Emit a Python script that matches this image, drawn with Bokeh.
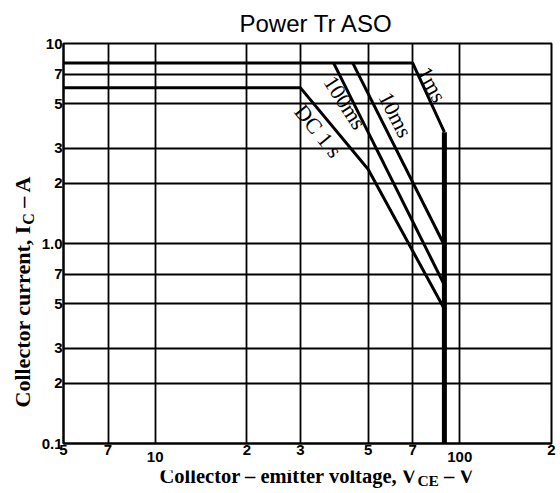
import math
from bokeh.plotting import figure
from bokeh.layouts import column, row
from bokeh.models import Range1d, FixedTicker, Label, LogAxis
from bokeh.embed import file_html
from bokeh.resources import INLINE

# ---------------- data ----------------
x_ticks = [5, 7, 10, 20, 30, 50, 70, 100, 200]
x_tick_labels = ["5", "7", "10", "2", "3", "5", "7", "100", "2"]
x_tick_low = [False, False, True, False, False, False, False, True, False]
y_ticks = [0.1, 0.2, 0.3, 0.5, 0.7, 1.0, 2, 3, 5, 7, 10]
y_tick_labels = ["0.1", "2", "3", "5", "7", "1.0", "2", "3", "5", "7", "10"]

# safe operating area boundaries (V_CE in V, I_C in A)
ms1_v = [5, 70, 89]
ms1_i = [8, 8, 3.6]
limit_v = [89, 89]
limit_i = [3.6, 0.1]
ms10_v = [44.5, 89]
ms10_i = [8, 0.98]
ms100_v = [38.5, 89]
ms100_i = [8, 0.62]
dc_v = [5, 30, 50, 89]
dc_i = [6, 6, 2.35, 0.47]

curve_names = ["1ms", "10ms", "100ms", "DC 1 s"]
curve_label_v = [81.0, 61.5, 42.0, 34.3]
curve_label_i = [6.24, 4.40, 5.07, 3.65]
curve_label_angle = [-61, -63, -57, -51]

title_text = "Power Tr ASO"
x_title = ["Collector – emitter voltage, V", "CE", "– V"]
y_title = ["Collector current, I", "C", "– A"]

X0, X1, Y0, Y1 = 5, 200, 0.1, 10

# ---------------- main figure ----------------
y_range = Range1d(Y0, Y1)
p = figure(width=525, height=470, x_axis_type="log", y_axis_type="log",
           x_range=Range1d(X0, X1), y_range=y_range,
           output_backend="svg", toolbar_location=None, title=title_text,
           min_border_left=28, min_border_right=9,
           min_border_top=43, min_border_bottom=27)
p.background_fill_color = "white"
p.border_fill_color = "white"
p.outline_line_color = "black"
p.outline_line_width = 2

p.title.text_font = "Liberation Sans"
p.title.text_font_size = "24px"
p.title.text_font_style = "normal"
p.title.text_color = "black"
p.title.align = "left"
p.title.offset = 176
p.title.standoff = 13

hi_ticks = [t for t, low in zip(x_ticks, x_tick_low) if not low]
lo_ticks = [t for t, low in zip(x_ticks, x_tick_low) if low]
labels_by_tick = dict(zip(x_ticks, x_tick_labels))

p.xaxis.ticker = FixedTicker(ticks=hi_ticks)
p.xaxis.major_label_overrides = {t: labels_by_tick[t] for t in hi_ticks}
p.yaxis.ticker = FixedTicker(ticks=y_ticks)
p.yaxis.major_label_overrides = {t: s for t, s in zip(y_ticks, y_tick_labels)}

low_axis = LogAxis(ticker=FixedTicker(ticks=lo_ticks),
                   major_label_overrides={t: labels_by_tick[t] for t in lo_ticks})
p.add_layout(low_axis, "below")

p.xgrid.ticker = FixedTicker(ticks=x_ticks)
p.ygrid.ticker = FixedTicker(ticks=y_ticks)
for g in (p.xgrid, p.ygrid):
    g.grid_line_color = "black"
    g.grid_line_width = 1.8
    g.grid_line_alpha = 1.0

for ax in p.xaxis + p.yaxis:
    ax.axis_line_color = "black"
    ax.axis_line_width = 2
    ax.major_tick_in = 0
    ax.major_tick_out = 0
    ax.minor_tick_in = 0
    ax.minor_tick_out = 0
    ax.major_label_standoff = 1
    ax.major_label_text_font = "Liberation Sans"
    ax.major_label_text_font_style = "bold"
    ax.major_label_text_font_size = "15px"
    ax.major_label_text_color = "black"
low_axis.axis_line_color = None
low_axis.major_label_standoff = -6

# ---------------- curves ----------------
lw = 3
p.line(ms1_v, ms1_i, line_color="black", line_width=lw)
p.line(limit_v, limit_i, line_color="black", line_width=5)
p.line(ms10_v, ms10_i, line_color="black", line_width=lw)
p.line(ms100_v, ms100_i, line_color="black", line_width=lw)
p.line(dc_v, dc_i, line_color="black", line_width=lw)

for name, v, i, a in zip(curve_names, curve_label_v, curve_label_i, curve_label_angle):
    p.add_layout(Label(x=v, y=i, text=name, angle=math.radians(a),
                       text_align="center", text_baseline="middle",
                       text_font="Liberation Serif", text_font_size="22px",
                       text_color="black"))


# ---------------- axis titles (own small canvases) ----------------
def text_canvas(w, h, yr=None, axis_type="linear"):
    f = figure(width=w, height=h, x_range=Range1d(0, w),
               y_range=yr if yr is not None else Range1d(0, h), y_axis_type=axis_type,
               output_backend="svg", toolbar_location=None, min_border=0,
               x_axis_location=None, y_axis_location=None, title=None)
    f.outline_line_color = None
    f.xgrid.visible = False
    f.ygrid.visible = False
    f.background_fill_color = "white"
    f.border_fill_color = "white"
    return f


serif_b = dict(text_font="Liberation Serif", text_font_style="bold",
               text_color="black", text_align="left", text_baseline="middle")

# y title: shares the current axis range, pieces offset in pixels from I_C = 0.1
ylab = text_canvas(35, 470, yr=y_range, axis_type="log")
rot = math.pi / 2
ylab.add_layout(Label(x=21.6, y=Y0, y_offset=36, text=y_title[0], angle=rot,
                      text_font_size="22px", **serif_b))
ylab.add_layout(Label(x=27.6, y=Y0, y_offset=218.7, text=y_title[1], angle=rot,
                      text_font_size="16px", **serif_b))
ylab.add_layout(Label(x=21.6, y=Y0, y_offset=235.8, text=y_title[2], angle=rot,
                      text_font_size="22px", **serif_b))

# x title canvas spans page y 470..493 (y measured upward from its bottom edge)
XH = 23
xlab = text_canvas(560, XH)
xlab.add_layout(Label(x=159, y=17.9, text=x_title[0], text_font_size="20.5px", **serif_b))
xlab.add_layout(Label(x=416.9, y=12.7, text=x_title[1], text_font_size="15.5px", **serif_b))
xlab.add_layout(Label(x=443.5, y=17.9, text=x_title[2], text_font_size="20.5px", **serif_b))

layout = column(row(ylab, p), xlab)
open("out.html", "w").write(file_html(layout, INLINE))
